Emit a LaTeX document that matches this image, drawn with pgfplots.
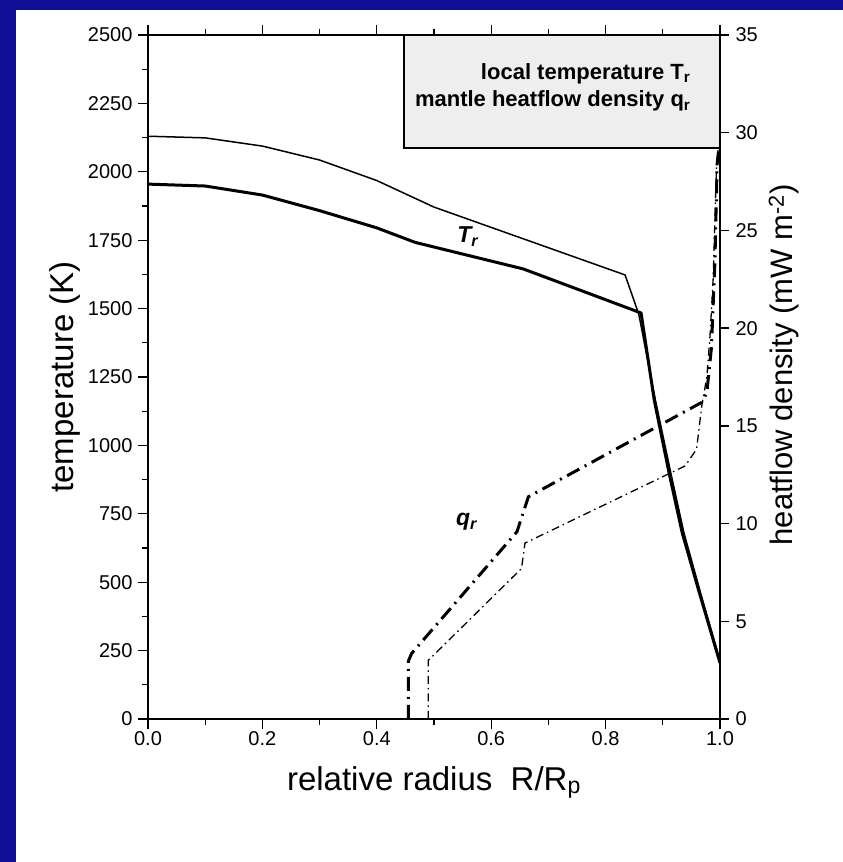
\documentclass[border=0pt]{standalone}
\usepackage{fontspec}
\setmainfont{Liberation Sans}
\usepackage{pgfplots}
\pgfplotsset{compat=1.18}
\definecolor{bgblue}{RGB}{14,14,150}
\definecolor{boxgray}{RGB}{238,238,238}

\begin{document}
\begin{tikzpicture}
\fill[bgblue] (0,0) rectangle (843pt,862pt);
\fill[white] (16pt,0) rectangle (843pt,852pt);
\path[use as bounding box] (0,0) rectangle (843pt,862pt);

\begin{axis}[
 at={(148pt,143pt)}, anchor=south west, scale only axis,
 width=572pt, height=684pt,
 xmin=0, xmax=1, ymin=0, ymax=2500,
 xtick={0,0.2,0.4,0.6,0.8,1}, xticklabels={0.0,0.2,0.4,0.6,0.8,1.0},
 minor xtick={0.1,0.3,0.5,0.7,0.9},
 ytick={0,250,...,2500},
 yticklabels={0,250,500,750,1000,1250,1500,1750,2000,2250,2500},
 minor ytick={125,375,...,2375},
 xtick pos=both, xticklabel pos=bottom, ytick pos=left,
 tick align=outside,
 major tick length=10pt, minor tick length=6pt,
 every tick/.style={black, line width=1.3pt},
 axis line style={line width=2pt},
 tick label style={font=\fontsize{20}{22}\selectfont},
 xticklabel style={yshift=1pt},
 yticklabel style={xshift=-2pt},
 label style={font=\fontsize{33}{38}\selectfont},
 xlabel={relative radius\ \ R/R\textsubscript{p}},
 ylabel={temperature (K)},
 xlabel style={at={(axis description cs:0.5,-0.1038)}, anchor=base},
 ylabel style={at={(axis description cs:-0.131,0.5)}, anchor=base},
]
\addplot[black, line width=1.5pt, line join=round] coordinates {
 (0,2130) (0.1,2124) (0.2,2094) (0.3,2043) (0.4,1968) (0.5,1871)
 (0.834,1623) (0.858,1480) (0.887,1166) (0.914,899) (0.937,680)
 (0.966,461) (1.0,212)
};
\addplot[black, line width=3pt, line join=round] coordinates {
 (0,1955) (0.1,1948) (0.2,1915) (0.3,1858) (0.4,1795) (0.467,1742)
 (0.656,1645) (0.862,1484) (0.885,1166) (0.911,899) (0.934,680)
 (0.964,461) (1.0,205)
};
\node[font=\fontsize{23}{25}\selectfont\bfseries\itshape] at (axis cs:0.559,1762) {T\textsubscript{r}};
\node[font=\fontsize{23}{25}\selectfont\bfseries\itshape] at (axis cs:0.557,721) {q\textsubscript{r}};
\draw[line width=2pt, fill=boxgray] (axis cs:0.4476,2087) rectangle (axis cs:1,2500);
\node[anchor=base east, font=\fontsize{22}{24}\selectfont\bfseries] at (axis cs:0.9545,2336) {local temperature T\textsubscript{r}};
\node[anchor=base east, font=\fontsize{22}{24}\selectfont\bfseries] at (axis cs:0.9545,2237) {mantle heatflow density q\textsubscript{r}};
\end{axis}

\begin{axis}[
 at={(148pt,143pt)}, anchor=south west, scale only axis,
 width=572pt, height=684pt,
 xmin=0, xmax=1, ymin=0, ymax=35,
 axis x line=none, axis y line*=right,
 ytick={0,5,...,35},
 yticklabels={0,5,10,15,20,25,30,35},
 tick align=outside,
 major tick length=9pt,
 every tick/.style={black, line width=1.3pt},
 axis line style={line width=2pt},
 tick label style={font=\fontsize{20}{22}\selectfont},
 yticklabel style={xshift=3pt},
 label style={font=\fontsize{31}{36}\selectfont},
 ylabel={heatflow density (mW m\textsuperscript{-2})},
 ylabel style={at={(axis description cs:1.1276,0.5175)}, anchor=base},
]
\addplot[black, line width=3pt, dash pattern=on 14pt off 6pt on 2pt off 6pt] coordinates {
 (0.455,0) (0.455,2.95) (0.461,3.36) (0.645,9.58) (0.665,11.37)
 (0.968,16.2) (0.977,16.7) (0.985,19.0) (0.991,23.3) (0.995,28.4) (0.998,29.2)
};
\addplot[black, line width=1.3pt, dash pattern=on 8pt off 4pt on 1.5pt off 4pt] coordinates {
 (0.49,0) (0.49,3.0) (0.653,7.7) (0.659,9.0) (0.939,12.95) (0.959,13.8)
 (0.968,16.0) (0.977,17.5) (0.9825,19.6) (0.988,22.5) (0.994,28.4) (0.997,29.2)
};
\end{axis}
\end{tikzpicture}
\end{document}
